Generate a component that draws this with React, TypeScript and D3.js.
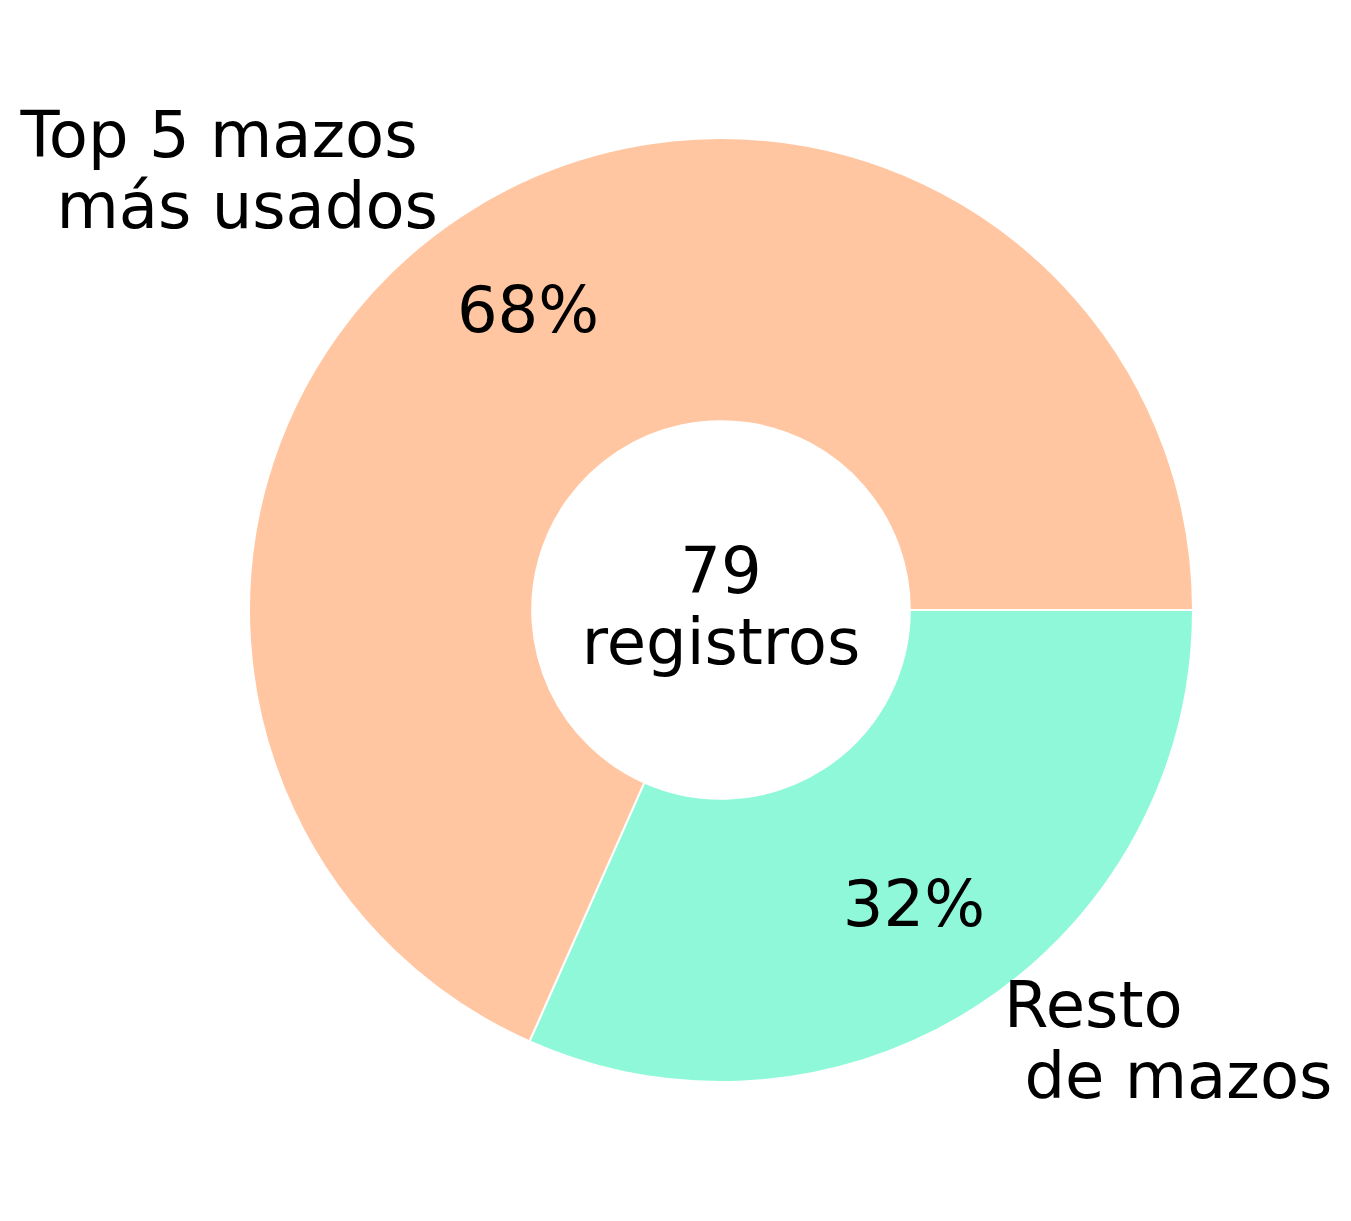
import React from "react";
import * as d3 from "d3";

const categories = ["Top 5 mazos \n más usados", "Resto\n de mazos"];
const counts = [54, 25];
const colors = ["#FFC6A1", "#8EF8D8"];
const centerLines = ["79", "registros"];

const W = 1351;
const H = 1221;
const cx = 721;
const cy = 610;
const R = 472;
const FONT = 64;
const LS = 71;

export default function App() {
  const total = d3.sum(counts);
  const pie = d3
    .pie<number>()
    .sort(null)
    .startAngle(Math.PI / 2)
    .endAngle(Math.PI / 2 - 2 * Math.PI);
  const arcs = pie(counts);
  const arc = d3.arc<d3.PieArcDatum<number>>().innerRadius(R * 0.4).outerRadius(R);

  const polar = (a: number, r: number) => [Math.sin(a) * r, -Math.cos(a) * r];

  return (
    <svg
      width={W}
      height={H}
      style={{ position: "absolute", left: 0, top: 0, fontFamily: "'DejaVu Sans', sans-serif" }}
    >
      <rect width={W} height={H} fill="#fff" />
      <g transform={`translate(${cx},${cy})`}>
        {arcs.map((d, i) => (
          <path key={i} d={arc(d) || ""} fill={colors[i]} stroke="#fff" strokeWidth={2} strokeLinejoin="round" />
        ))}
        {arcs.map((d, i) => {
          const mid = (d.startAngle + d.endAngle) / 2;
          const [lx, ly] = polar(mid, R * 1.1);
          const [px, py] = polar(mid, R * 0.75);
          const lines = categories[i].split("\n");
          const anchor = lx < 0 ? "end" : "start";
          const pct = Math.round((counts[i] / total) * 100);
          return (
            <g key={"l" + i}>
              <text
                x={lx}
                y={ly - 18}
                textAnchor={anchor}
                fontSize={FONT}
                fill="#000"
                style={{ whiteSpace: "pre" }}
              >
                {lines.map((ln, j) => (
                  <tspan key={j} x={lx} dy={j === 0 ? 0 : LS} style={{ whiteSpace: "pre" }}>
                    {ln}
                  </tspan>
                ))}
              </text>
              <text x={px} y={py + 19} textAnchor="middle" fontSize={FONT} fill="#000">
                {pct}%
              </text>
            </g>
          );
        })}
        <text x={0} y={-17} textAnchor="middle" fontSize={FONT} fill="#000">
          {centerLines.map((ln, j) => (
            <tspan key={j} x={0} dy={j === 0 ? 0 : LS}>
              {ln}
            </tspan>
          ))}
        </text>
      </g>
    </svg>
  );
}
